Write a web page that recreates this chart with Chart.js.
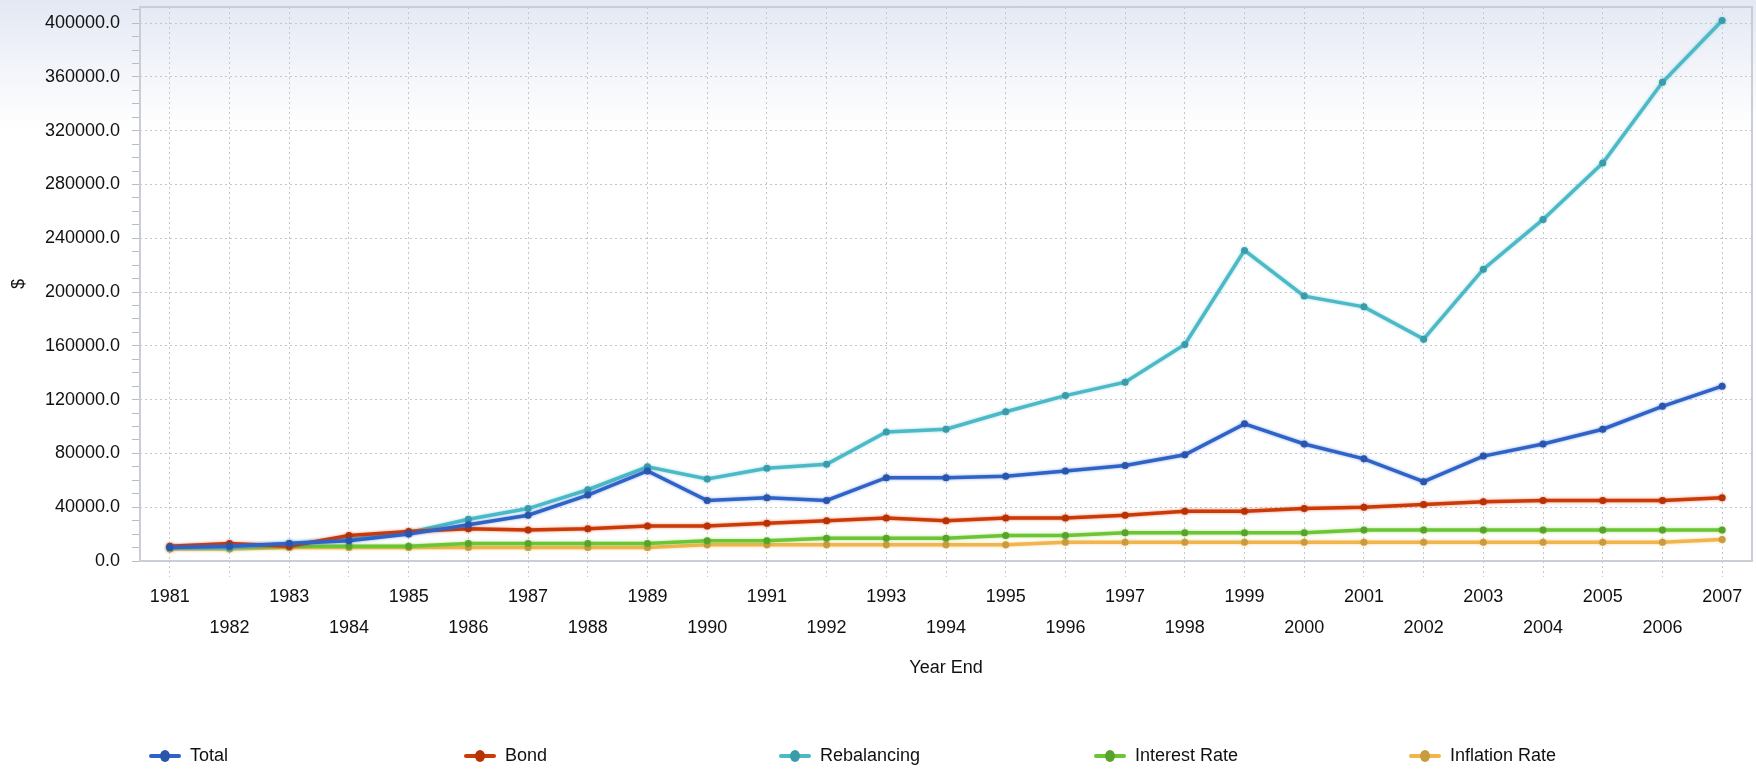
<!DOCTYPE html>
<html>
<head>
<meta charset="utf-8">
<script src="https://cdn.jsdelivr.net/npm/chart.js@4"></script>
<style>
  html, body {
    margin: 0;
    padding: 0;
  }
  body {
    width: 1756px;
    height: 771px;
    position: relative;
    overflow: hidden;
    background: linear-gradient(to bottom, #e3e8f3 0px, #f3f5fa 70px, #ffffff 130px);
    font-family: "Liberation Sans", Arial, sans-serif;
  }
  #grafico {
    position: absolute;
    left: 0;
    top: 0;
  }
  #legenda {
    position: absolute;
    left: 149px;
    top: 745px;
    display: flex;
  }
  .item {
    width: 315px;
    display: flex;
    align-items: center;
    font-size: 18px;
    color: #111;
  }
  .marca {
    position: relative;
    width: 32px;
    height: 12px;
    margin-right: 9px;
  }
  .marca .linha {
    position: absolute;
    left: 0;
    right: 0;
    top: 4px;
    height: 4px;
    border-radius: 2px;
  }
  .marca .ponto {
    position: absolute;
    left: 11px;
    top: 0;
    width: 10px;
    height: 12px;
    border-radius: 50%;
  }
</style>
</head>
<body>
<canvas id="grafico" width="1756" height="771"></canvas>
<div id="legenda"></div>

<script>
const anos = [
  "1981", "1982", "1983", "1984", "1985", "1986", "1987", "1988", "1989",
  "1990", "1991", "1992", "1993", "1994", "1995", "1996", "1997", "1998",
  "1999", "2000", "2001", "2002", "2003", "2004", "2005", "2006", "2007"
];

// series
const dadosTotal = [
  10000, 11000, 13000, 15000, 20000, 27000, 34000, 49000, 67000,
  45000, 47000, 45000, 62000, 62000, 63000, 67000, 71000, 79000,
  102000, 87000, 76000, 59000, 78000, 87000, 98000, 115000, 130000
];
const dadosBond = [
  11000, 13000, 11000, 19000, 22000, 24000, 23000, 24000, 26000,
  26000, 28000, 30000, 32000, 30000, 32000, 32000, 34000, 37000,
  37000, 39000, 40000, 42000, 44000, 45000, 45000, 45000, 47000
];
const dadosRebalancing = [
  10000, 10000, 13000, 16000, 21000, 31000, 39000, 53000, 70000,
  61000, 69000, 72000, 96000, 98000, 111000, 123000, 133000, 161000,
  231000, 197000, 189000, 165000, 217000, 254000, 296000, 356000, 402000
];
const dadosInterest = [
  10000, 10000, 11000, 11000, 11000, 13000, 13000, 13000, 13000,
  15000, 15000, 17000, 17000, 17000, 19000, 19000, 21000, 21000,
  21000, 21000, 23000, 23000, 23000, 23000, 23000, 23000, 23000
];
const dadosInflation = [
  9000, 9000, 10000, 10000, 10000, 10000, 10000, 10000, 10000,
  12000, 12000, 12000, 12000, 12000, 12000, 14000, 14000, 14000,
  14000, 14000, 14000, 14000, 14000, 14000, 14000, 14000, 16000
];

const yMax = 412000;
const passoMenor = 10000;
const passoRotulo = 40000;

const serie = (label, data, cor, corPonto) => ({
  label,
  data,
  borderColor: cor,
  backgroundColor: corPonto,
  pointBackgroundColor: corPonto,
  pointBorderColor: corPonto,
  borderWidth: 3.5,
  pointRadius: 3.5,
  pointBorderWidth: 0,
  tension: 0
});

// contorno da area do grafico
const bordaArea = {
  id: "bordaArea",
  afterDraw(chart) {
    const { ctx, chartArea } = chart;
    ctx.save();
    ctx.strokeStyle = "#c9ced6";
    ctx.lineWidth = 2;
    ctx.strokeRect(chartArea.left, chartArea.top, chartArea.width, chartArea.height);
    ctx.restore();
  }
};

// brilho suave nas linhas
const brilho = {
  id: "brilho",
  beforeDatasetDraw(chart, args) {
    const ctx = chart.ctx;
    ctx.save();
    ctx.shadowColor = chart.data.datasets[args.index].borderColor + "88";
    ctx.shadowBlur = 3;
  },
  afterDatasetDraw(chart) {
    chart.ctx.restore();
  }
};

const ctx = document.getElementById("grafico").getContext("2d");

const grafico = new Chart(ctx, {
  type: "line",
  data: {
    labels: anos,
    datasets: [
      serie("Total", dadosTotal, "#2f63c8", "#2a55ad"),
      serie("Bond", dadosBond, "#cc3a08", "#b83206"),
      serie("Rebalancing", dadosRebalancing, "#4cb9c7", "#3a9cab"),
      serie("Interest Rate", dadosInterest, "#6cc634", "#58a32c"),
      serie("Inflation Rate", dadosInflation, "#f0b54c", "#c99a3e")
    ]
  },
  options: {
    responsive: false,
    animation: false,
    layout: {
      padding: { top: 7, right: 4, left: 0, bottom: 92 }
    },
    plugins: {
      legend: { display: false },
      tooltip: { enabled: false }
    },
    scales: {
      x: {
        offset: true,
        afterFit(scale) {
          scale.height = 118;
          scale.paddingLeft = 0;
          scale.paddingRight = 0;
        },
        grid: {
          color: "#c4c8ce",
          tickColor: "#c4c8ce",
          tickBorderDash: [2, 3],
          tickLength: 16
        },
        border: { display: false, dash: [2, 3] },
        ticks: {
          autoSkip: false,
          maxRotation: 0,
          minRotation: 0,
          padding: 4,
          color: "#111",
          font: { family: "Liberation Sans", size: 18, lineHeight: 1.75 },
          callback(value, index) {
            const rot = this.getLabelForValue(value);
            return index % 2 === 0 ? rot : ["", rot];
          }
        },
        title: {
          display: true,
          text: "Year End",
          color: "#111",
          font: { family: "Liberation Sans", size: 18 },
          padding: { top: 0, bottom: 0 }
        }
      },
      y: {
        min: 0,
        max: yMax,
        afterFit(scale) {
          scale.width = 140;
          scale.paddingTop = 0;
          scale.paddingBottom = 0;
        },
        afterBuildTicks(scale) {
          const marcas = [];
          for (let v = 0; v <= yMax; v += passoMenor) marcas.push({ value: v });
          scale.ticks = marcas;
        },
        grid: {
          color: c => (c.tick && c.tick.value % passoRotulo === 0 ? "#c4c8ce" : "rgba(0,0,0,0)"),
          tickColor: "#b8bcc4",
          tickLength: 8
        },
        border: { display: false, dash: [2, 3] },
        ticks: {
          autoSkip: false,
          padding: 12,
          color: "#111",
          font: { family: "Liberation Sans", size: 18 },
          callback: v => (v % passoRotulo === 0 ? v.toFixed(1) : "")
        },
        title: {
          display: true,
          text: "$",
          color: "#111",
          font: { family: "Liberation Sans", size: 18 },
          padding: { top: 8, bottom: 4 }
        }
      }
    }
  },
  plugins: [bordaArea, brilho]
});

// linhas pontilhadas da grade
grafico.options.scales.x.border.dash = [2, 3];
grafico.options.scales.y.border.dash = [2, 3];
grafico.update();

// legenda em html, colunas de largura fixa
function montarLegenda() {
  const caixa = document.getElementById("legenda");
  grafico.data.datasets.forEach(ds => {
    const item = document.createElement("div");
    item.className = "item";
    item.innerHTML =
      `<span class="marca"><span class="linha" style="background:${ds.borderColor}"></span>` +
      `<span class="ponto" style="background:${ds.pointBackgroundColor}"></span></span>` +
      `<span>${ds.label}</span>`;
    caixa.appendChild(item);
  });
}

montarLegenda();
</script>
</body>
</html>
